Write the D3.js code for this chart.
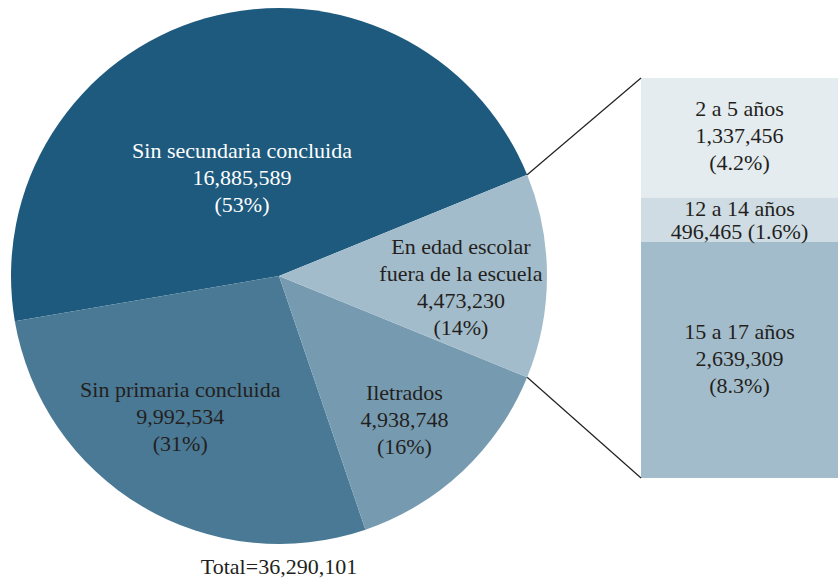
<!DOCTYPE html>
<html>
<head>
<meta charset="utf-8">
<script src="https://cdn.jsdelivr.net/npm/d3@7"></script>
<style>
    body { margin: 0; background: #fff; }
    svg text { font-family: "Liberation Serif", "DejaVu Serif", serif; font-size: 22px; fill: #231f20; }
</style>
</head>
<body>
<div id="chart"></div>
<script>
    // pie data
    let categories = ["Sin secundaria concluida", "Sin primaria concluida", "Iletrados", "En edad escolar fuera de la escuela"];
    let values = [16885589, 9992534, 4938748, 4473230];
    let pctLabels = ["(53%)", "(31%)", "(16%)", "(14%)"];

    // breakdown of the out-of-school slice
    let subCategories = ["2 a 5 años", "12 a 14 años", "15 a 17 años"];
    let subValues = [1337456, 496465, 2639309];
    let subPctLabels = ["(4.2%)", "(1.6%)", "(8.3%)"];

    let totalLabel = "Total=36,290,101";

    let formatComma = d3.format(",");

    let width = 838, height = 578;
    let cx = 279, cy = 276, radius = 268;

    let pieColors = ["#1d5a7d", "#4a7995", "#769bb0", "#a3bccb"];
    let subColors = ["#e4ecf0", "#cfdce4", "#a3bccb"];

    let svg = d3.select("#chart").append("svg")
        .attr("width", width)
        .attr("height", height);

    let total = d3.sum(values);
    // last slice centred on the right horizontal, going counter-clockwise
    let start = Math.PI / 2 - Math.PI * values[3] / total;

    let pie = d3.pie()
        .sort(null)
        .startAngle(start)
        .endAngle(start - 2 * Math.PI);

    let arcs = pie(values);

    let arc = d3.arc().innerRadius(0).outerRadius(radius);

    let g = svg.append("g").attr("transform", "translate(" + cx + "," + cy + ")");

    g.selectAll("path.slice")
        .data(arcs)
        .enter().append("path")
        .attr("class", "slice")
        .attr("d", arc)
        .attr("fill", (d, i) => pieColors[i]);

    // label placement: radius fraction and angle nudge (deg) per slice
    let labelLayout = [
        {r: 0.395, da: -4.5, color: "#ffffff", lines: ["Sin secundaria concluida"]},
        {r: 0.64, da: 4.4, color: "#231f20", lines: ["Sin primaria concluida"]},
        {r: 0.71, da: 2.1, color: "#231f20", lines: ["Iletrados"]},
        {r: 0.68, da: 3.5, color: "#231f20", lines: ["En edad escolar", "fuera de la escuela"]}
    ];
    let lineH = 27;

    arcs.forEach(function(d, i) {
        let lay = labelLayout[i];
        let a = (d.startAngle + d.endAngle) / 2 + lay.da * Math.PI / 180;
        let lx = Math.sin(a) * radius * lay.r;
        let ly = -Math.cos(a) * radius * lay.r;
        let lines = lay.lines.concat([formatComma(values[i]), pctLabels[i]]);
        let t = g.append("text")
            .attr("text-anchor", "middle")
            .style("fill", lay.color);
        lines.forEach(function(s, k) {
            t.append("tspan")
                .attr("x", lx)
                .attr("y", ly + (k - (lines.length - 1) / 2) * lineH)
                .attr("dy", "0.35em")
                .text(s);
        });
    });

    // stacked bar for the breakdown
    let barX = 641, barW = 197, barTop = 78, barBottom = 478;
    let y = d3.scaleLinear()
        .domain([0, d3.sum(subValues)])
        .range([barTop, barBottom]);

    let cum = 0;
    let stacked = subValues.map(function(v) {
        let s = {y0: cum, y1: cum + v, v: v};
        cum += v;
        return s;
    });

    let bars = svg.append("g");
    bars.selectAll("rect")
        .data(stacked)
        .enter().append("rect")
        .attr("x", barX)
        .attr("width", barW)
        .attr("y", d => y(d.y0))
        .attr("height", d => y(d.y1) - y(d.y0))
        .attr("fill", (d, i) => subColors[i]);

    stacked.forEach(function(d, i) {
        let lines;
        if (i === 1) lines = [subCategories[i], formatComma(d.v) + " " + subPctLabels[i]];
        else lines = [subCategories[i], formatComma(d.v), subPctLabels[i]];
        let my = (y(d.y0) + y(d.y1)) / 2 + (i === 1 ? 0 : -2);
        let t = bars.append("text").attr("text-anchor", "middle");
        lines.forEach(function(s, k) {
            t.append("tspan")
                .attr("x", barX + barW / 2)
                .attr("y", my + (k - (lines.length - 1) / 2) * (i === 1 ? 23 : lineH))
                .attr("dy", "0.35em")
                .text(s);
        });
    });

    // connector lines from slice edges to bar corners
    let last = arcs[3];
    let edgeTop = [cx + Math.sin(last.endAngle) * radius, cy - Math.cos(last.endAngle) * radius];
    let edgeBot = [cx + Math.sin(last.startAngle) * radius, cy - Math.cos(last.startAngle) * radius];
    svg.append("line")
        .attr("x1", edgeTop[0]).attr("y1", edgeTop[1])
        .attr("x2", barX).attr("y2", y(0))
        .attr("stroke", "#231f20").attr("stroke-width", 1.2);
    svg.append("line")
        .attr("x1", edgeBot[0]).attr("y1", edgeBot[1])
        .attr("x2", barX).attr("y2", y(d3.sum(subValues)))
        .attr("stroke", "#231f20").attr("stroke-width", 1.2);

    svg.append("text")
        .attr("x", cx)
        .attr("y", 566)
        .attr("dy", "0.35em")
        .attr("text-anchor", "middle")
        .text(totalLabel);
</script>
</body>
</html>
